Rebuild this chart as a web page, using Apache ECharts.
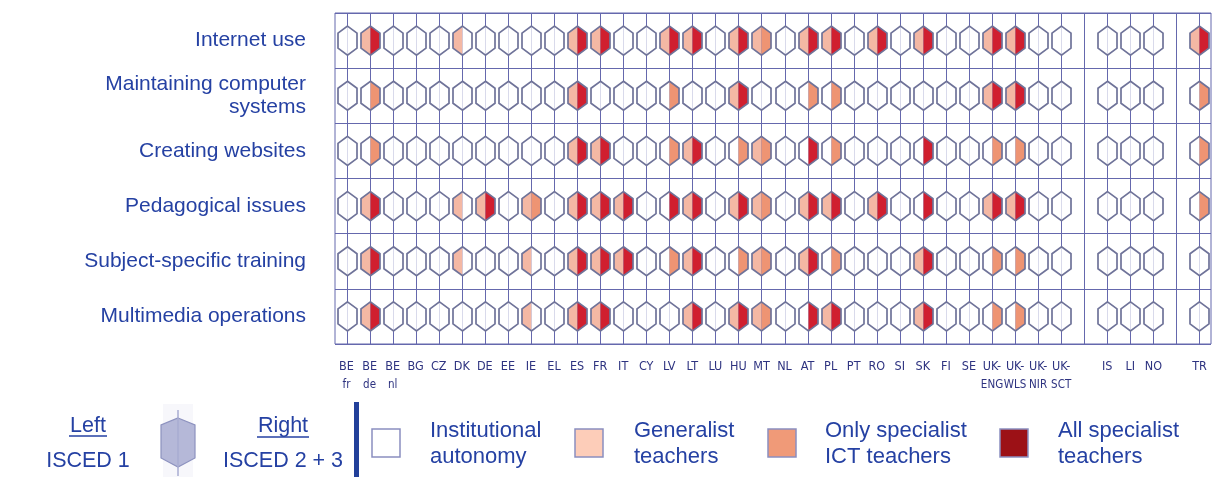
<!DOCTYPE html>
<html><head><meta charset="utf-8">
<script src="https://cdn.jsdelivr.net/npm/echarts@6/dist/echarts.min.js"></script>
<style>html,body{margin:0;padding:0;background:#fff}#c{width:1213px;height:477px}</style>
</head><body><div id="c"></div>
<script>
// x slots (empty strings are gaps between country groups)
const xLabels = ['BE\nfr','BE\nde','BE\nnl','BG','CZ','DK','DE','EE','IE','EL','ES','FR','IT','CY','LV','LT','LU','HU','MT','NL','AT','PL','PT','RO','SI','SK','FI','SE','UK-\nENG','UK-\nWLS','UK-\nNIR','UK-\nSCT','','IS','LI','NO','','TR'];
const rowLabels = ['Internet use','Maintaining computer\nsystems','Creating websites','Pedagogical issues','Subject-specific training','Multimedia operations'];
// codes: first digit = left half (ISCED 1), second = right half (ISCED 2+3)
// 0 institutional autonomy, 1 generalist, 2 only specialist ICT, 3 all specialist
const internetUse   = ['00','13','00','00','00','10','00','00','00','00','13','13','00','00','13','13','00','13','12','00','13','13','00','13','00','13','00','00','13','13','00','00','00','00','00','13'];
const maintaining   = ['00','02','00','00','00','00','00','00','00','00','13','00','00','00','02','00','00','13','00','00','02','02','00','00','00','00','00','00','13','13','00','00','00','00','00','02'];
const websites      = ['00','02','00','00','00','00','00','00','00','00','13','13','00','00','02','13','00','02','12','00','03','02','00','00','00','03','00','00','02','02','00','00','00','00','00','02'];
const pedagogical   = ['00','13','00','00','00','10','13','00','12','00','13','13','13','00','03','13','00','13','12','00','13','13','00','13','00','03','00','00','13','13','00','00','00','00','00','02'];
const subjectSpec   = ['00','13','00','00','00','10','00','00','10','00','13','13','13','00','02','13','00','02','12','00','13','02','00','00','00','13','00','00','02','02','00','00','00','00','00','00'];
const multimedia    = ['00','13','00','00','00','00','00','00','10','00','13','13','00','00','00','13','00','13','12','00','03','13','00','00','00','13','00','00','02','02','00','00','00','00','00','00'];
const rowsData = [internetUse, maintaining, websites, pedagogical, subjectSpec, multimedia];
const legendLabels = ['Institutional\nautonomy','Generalist\nteachers','Only specialist\nICT teachers','All specialist\nteachers'];

const fills = ['#ffffff','#f4b8a4','#ee9473','#d01f2f'];
const legendFills = ['#ffffff','#fdcdb9','#f09a78','#9c1116'];
const lineCol = '#6568ad';
const textCol = '#2541a3';
const legFont = '21.5px "Liberation Sans", Arial, sans-serif';

const countrySlots = [];
xLabels.forEach((l,i)=>{ if(l!=='') countrySlots.push(i); });
const hexData = [];
rowsData.forEach((row,r)=>{
  row.forEach((code,c)=>{
    hexData.push([countrySlots[c], r, +code[0], +code[1]]);
  });
});
const colData = xLabels.map((_,i)=>[i,0]);

const chart = echarts.init(document.getElementById('c'));
const hw = 9.5, h1 = 7.5, h2 = 14.5;
const legendX = [386, 589, 782, 1014];
const legendTextX = [430, 634, 825, 1058];
const graphic = [];
graphic.push({type:'text', x:88, y:426, style:{text:'Left', fill:textCol, font:legFont, textAlign:'center', textVerticalAlign:'middle'}});
graphic.push({type:'line', shape:{x1:69,y1:436,x2:107,y2:436}, style:{stroke:textCol, lineWidth:1.3}});
graphic.push({type:'text', x:88, y:461, style:{text:'ISCED 1', fill:textCol, font:legFont, textAlign:'center', textVerticalAlign:'middle'}});
graphic.push({type:'text', x:283, y:426, style:{text:'Right', fill:textCol, font:legFont, textAlign:'center', textVerticalAlign:'middle'}});
graphic.push({type:'line', shape:{x1:257,y1:437,x2:309,y2:437}, style:{stroke:textCol, lineWidth:1.3}});
graphic.push({type:'text', x:283, y:461, style:{text:'ISCED 2 + 3', fill:textCol, font:legFont, textAlign:'center', textVerticalAlign:'middle'}});
graphic.push({type:'rect', shape:{x:163,y:404,width:30,height:73}, style:{fill:'#f7f7fb'}});
graphic.push({type:'polygon', shape:{points:[[178,418],[195,425],[195,458],[178,467],[161,458],[161,425]]}, style:{fill:'#b5b8d8', stroke:'#8d92bf', lineWidth:1.2}});
graphic.push({type:'line', shape:{x1:178,y1:410,x2:178,y2:476}, style:{stroke:'#a9add2', lineWidth:1.5}});
graphic.push({type:'rect', shape:{x:354,y:402,width:5,height:75}, style:{fill:'#22409a'}});
legendLabels.forEach((t,i)=>{
  graphic.push({type:'rect', shape:{x:legendX[i]-14,y:429,width:28,height:28}, style:{fill:legendFills[i], stroke:'#8a8ec0', lineWidth:1.5}});
  graphic.push({type:'text', x:legendTextX[i], y:444, style:{text:t, fill:textCol, font:'22px "Liberation Sans", Arial, sans-serif', lineHeight:26, textAlign:'left', textVerticalAlign:'middle'}});
});

chart.setOption({
  animation:false,
  backgroundColor:'#ffffff',
  grid:{left:335, right:2, top:13, bottom:133, show:true, borderColor:lineCol, borderWidth:1},
  xAxis:{type:'category', data:xLabels, boundaryGap:true,
    axisLine:{show:false}, axisTick:{show:false}, splitLine:{show:false},
    axisLabel:{interval:0, margin:14,
      formatter:function(v){ const p = v.split('\n'); return p.length>1 ? '{a|'+p[0]+'}\n{b|'+p[1]+'}' : '{a|'+p[0]+'}'; },
      rich:{
        a:{fontSize:12.5, lineHeight:18, color:'#2e3380', fontFamily:"'Liberation Sans Narrow','DejaVu Sans Condensed',sans-serif"},
        b:{fontSize:11.5, lineHeight:18, color:'#2e3380', fontFamily:"'Liberation Sans Narrow','DejaVu Sans Condensed',sans-serif"}
      }}},
  yAxis:{type:'category', data:rowLabels, inverse:true, boundaryGap:true,
    axisLine:{show:false}, axisTick:{show:false},
    splitLine:{show:true, lineStyle:{color:lineCol, width:1}},
    axisLabel:{margin:29, fontSize:21, lineHeight:23, color:textCol, fontFamily:"'Liberation Sans', Arial, sans-serif"}},
  series:[
    {type:'custom', z:1, silent:true, data:colData, encode:{x:0,y:1},
      renderItem:function(params, api){
        const cs = params.coordSys;
        const x = Math.round(api.coord([api.value(0),0])[0])+0.5;
        return {type:'line', shape:{x1:x,y1:cs.y,x2:x,y2:cs.y+cs.height}, style:{stroke:lineCol, lineWidth:1}};
      }},
    {type:'custom', z:3, silent:true, data:hexData, encode:{x:0,y:1},
      renderItem:function(params, api){
        const p = api.coord([api.value(0), api.value(1)]);
        const x = Math.round(p[0])+0.5, y = p[1];
        const L = api.value(2), R = api.value(3);
        return {type:'group', children:[
          {type:'polygon', shape:{points:[[x,y-h2],[x-hw,y-h1],[x-hw,y+h1],[x,y+h2]]}, style:{fill:fills[L]}},
          {type:'polygon', shape:{points:[[x,y-h2],[x+hw,y-h1],[x+hw,y+h1],[x,y+h2]]}, style:{fill:fills[R]}},
          {type:'polygon', shape:{points:[[x,y-h2],[x+hw,y-h1],[x+hw,y+h1],[x,y+h2],[x-hw,y+h1],[x-hw,y-h1]]}, style:{fill:null, stroke:'#6f7399', lineWidth:1.7}}
        ]};
      }}
  ],
  graphic:graphic
});
</script></body></html>
